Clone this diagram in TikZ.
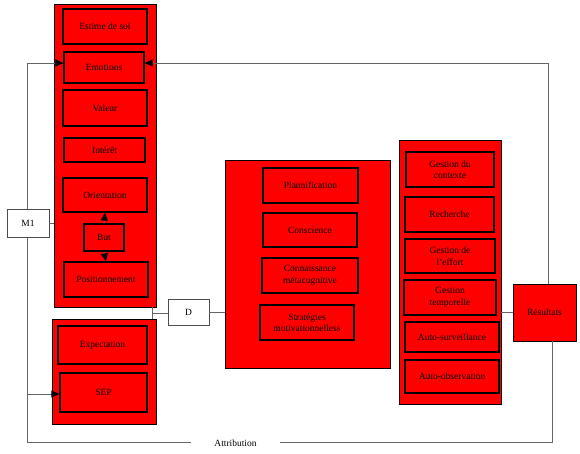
\documentclass[tikz,border=0pt]{standalone}
\usepackage{fontspec}
\setmainfont{Liberation Serif}
\usetikzlibrary{arrows.meta,calc}
\begin{document}
\begin{tikzpicture}[x=1pt,y=-1pt,
  every node/.style={font=\fontsize{9.5}{11.5}\selectfont, inner sep=0pt, align=center},
  outer/.style={draw=black, line width=0.9pt, fill=red},
  inbox/.style={draw=black, line width=1.2pt, fill=red},
  wbox/.style={draw=black!70, line width=0.8pt, fill=white},
  conn/.style={draw=black!60, line width=0.9pt},
  arr/.style={conn, -{Triangle[length=8pt,width=7pt,color=black]}}
]
\useasboundingbox (0,0) rectangle (580,453);
\newcommand{\bx}[6]{\node[#1, minimum width=#4, minimum height=#5] (#2) at #3 {#6};}

\coordinate (tl) at (27,63);
\coordinate (bl) at (27,442);
\coordinate (br) at (552,442);
\coordinate (tr) at (548,63);
\coordinate (sepin) at (27,394);
\coordinate (dj) at (152,313);

% left top group
\bx{outer}{L1}{(105,155.5)}{102pt}{303pt}{}
\bx{inbox}{estime}{(105,26.5)}{84pt}{35pt}{Estime de soi}
\bx{inbox}{emotions}{(104,67.5)}{80pt}{31pt}{Emotions}
\bx{inbox}{valeur}{(105,108)}{84pt}{36pt}{Valeur}
\bx{inbox}{interet}{(104.5,150)}{81pt}{24pt}{Intérêt}
\bx{inbox}{orient}{(105,195)}{84pt}{34pt}{Orientation}
\bx{inbox}{but}{(104,237.5)}{40pt}{27pt}{But}
\bx{inbox}{posit}{(106,279.5)}{84pt}{35pt}{Positionnement}

% left bottom group
\bx{outer}{L2}{(104,371.5)}{104pt}{105pt}{}
\bx{inbox}{expect}{(102.5,345)}{89pt}{38pt}{Expectation}
\bx{inbox}{sep}{(103.5,392.5)}{87pt}{39pt}{SEP}

% middle group
\bx{outer}{mid}{(307.5,264)}{165pt}{208pt}{}
\bx{inbox}{plan}{(310.5,185.5)}{95pt}{35pt}{Plannification}
\bx{inbox}{consc}{(310,230)}{94pt}{34pt}{Conscience}
\bx{inbox}{conn}{(310,275.5)}{96pt}{35pt}{Connaissance\\métacognitive}
\bx{inbox}{strat}{(307,322.5)}{94pt}{35pt}{Stratégies\\motivationnelless}

% right group
\bx{outer}{rcol}{(450,272)}{102pt}{264pt}{}
\bx{inbox}{gdc}{(450,169.5)}{88pt}{35pt}{Gestion du\\contexte}
\bx{inbox}{rech}{(449.5,214.5)}{89pt}{35pt}{Recherche}
\bx{inbox}{gde}{(450,256)}{90pt}{34pt}{Gestion de\\l'effort}
\bx{inbox}{gt}{(450,297.5)}{92pt}{35pt}{Gestion\\temporelle}
\bx{inbox}{as}{(452,337)}{94pt}{30pt}{Auto-surveillance}
\bx{inbox}{ao}{(452,376.5)}{94pt}{33pt}{Auto-observation}

\bx{outer}{res}{(544.5,312.5)}{63pt}{57pt}{Résultats}

\draw[conn] (tl) -- (bl);
\bx{wbox}{m1}{(28,223)}{42pt}{28pt}{M1}
\bx{wbox}{d}{(188.5,312)}{41pt}{26pt}{D}
\node[minimum width=89pt, minimum height=10pt] (attr) at (235.5,443) {Attribution};

% connectors
\draw[arr] (tl) -- (tl -| emotions.west);
\draw[arr] (res.north -| tr) -- (tr) -- (tr -| emotions.east);
\draw[arr] (sepin) -- (sepin -| sep.west);
\draw[conn] (bl) -- (attr.west |- bl);
\draw[conn] (attr.east |- br) -- (br) -- (res.south -| br);
\draw[conn] (m1.east) -- (m1.east -| L1.west);
\draw[arr] (but.north) -- (orient.south);
\draw[arr] (but.south) -- (posit.north);
\draw[conn] (dj |- L1.south) -- (dj |- L2.north);
\draw[conn] (d.west |- dj) -- (dj);
\draw[conn] (d.east) -- (d.east -| mid.west);
\draw[conn] ($(mid.east)+(0,50)$) -- ($(mid.east)+(0,50)$ -| rcol.west);
\draw[conn] (res.west -| rcol.east) -- (res.west);
\end{tikzpicture}
\end{document}
